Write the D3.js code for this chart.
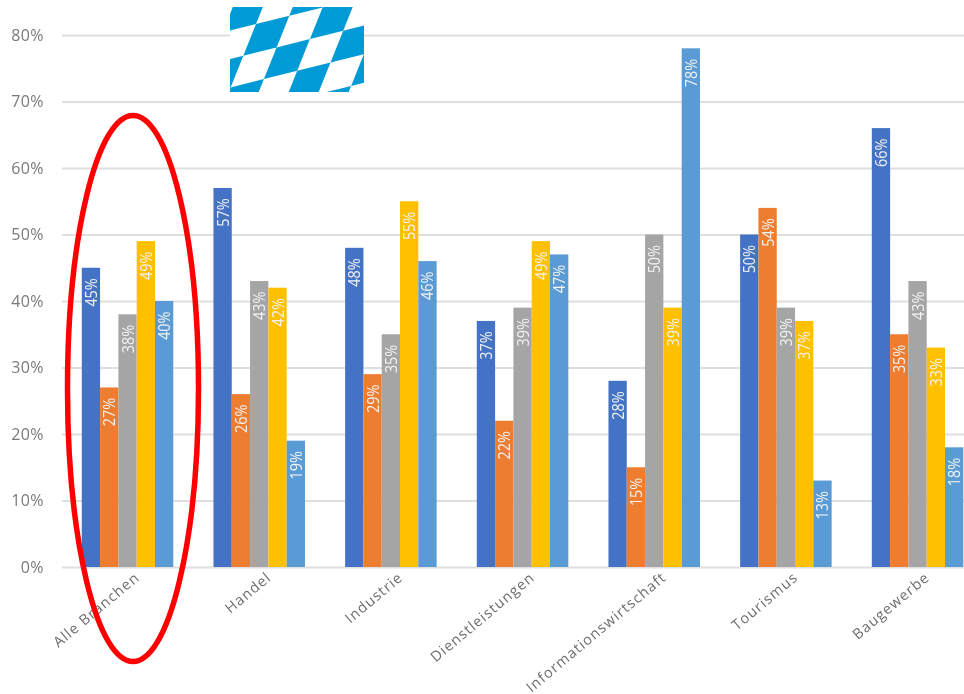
<!DOCTYPE html>
<html><head><meta charset="utf-8">
<script src="https://cdn.jsdelivr.net/npm/d3@7"></script>
<style>html,body{margin:0;padding:0;background:#fff;overflow:hidden}svg{display:block;filter:blur(0.35px)}</style>
</head><body><svg id="c" width="964" height="694"></svg>
<script>
const categories = ["Alle Branchen","Handel","Industrie","Dienstleistungen","Informationswirtschaft","Tourismus","Baugewerbe"];
const seriesA = [45,57,48,37,28,50,66];
const seriesB = [27,26,29,22,15,54,35];
const seriesC = [38,43,35,39,50,39,43];
const seriesD = [49,42,55,49,39,37,33];
const seriesE = [40,19,46,47,78,13,18];
const series = [seriesA,seriesB,seriesC,seriesD,seriesE];
const colors = ["#4472C4","#ED7D31","#A5A5A5","#FFC000","#5B9BD5"];
const yTicks = [0,10,20,30,40,50,60,70,80];

const svg = d3.select("#c");
const y = d3.scaleLinear().domain([0,80]).range([567,35]);
const x0 = d3.scaleBand().domain(categories).range([61.7,983.4]).paddingInner(0.305).paddingOuter(0.1525);
const x1 = d3.scaleBand().domain(d3.range(series.length)).range([0,x0.bandwidth()]);

// gridlines
const yAxis = d3.axisLeft(y).tickValues(yTicks).tickFormat(d=>d+"%").tickSize(-903).tickPadding(18);
const gy = svg.append("g").attr("transform","translate(62,0)").call(yAxis);
gy.select(".domain").remove();
gy.selectAll("line").attr("stroke","#dfdfdf").attr("stroke-width",2);
gy.selectAll("text").attr("fill","#7a7a7a").attr("font-family","'Open Sans',sans-serif").attr("font-size",16).attr("letter-spacing",0.4);

// bars
series.forEach((vals,s)=>{
  const g = svg.append("g");
  g.selectAll("rect").data(vals).join("rect")
    .attr("x",(d,i)=>x0(categories[i])+x1(s))
    .attr("y",d=>y(d))
    .attr("width",x1.bandwidth())
    .attr("height",d=>y(0)-y(d))
    .attr("fill",colors[s]);
  g.selectAll("text").data(vals).join("text")
    .attr("transform",(d,i)=>`translate(${x0(categories[i])+x1(s)+x1.bandwidth()/2+6},${y(d)+10.5}) rotate(-90) scale(0.9,1)`)
    .attr("text-anchor","end")
    .attr("fill","#f2f2f2")
    .attr("font-family","'Open Sans',sans-serif")
    .attr("font-size",16)
    .text(d=>d+"%");
});

// category labels
const xAxis = d3.axisBottom(x0).tickSize(0).tickPadding(0);
const gx = svg.append("g").attr("transform","translate(0,567)").call(xAxis);
gx.select(".domain").remove();
gx.selectAll("text")
  .attr("text-anchor","end")
  .attr("dy",0).attr("y",0).attr("x",0)
  .attr("transform","translate(13,12) rotate(-40)")
  .attr("fill","#6e6e6e")
  .attr("font-family","'Open Sans',sans-serif")
  .attr("font-size",14.5)
  .attr("letter-spacing",1.05);

// Bavarian flag decoration
const defs = svg.append("defs");
defs.append("clipPath").attr("id","fl").append("rect").attr("x",230).attr("y",7).attr("width",134).attr("height",85);
const flag = svg.append("g").attr("clip-path","url(#fl)");
const P = (i,j)=>[256+i*33.3-j*12.7, 24-i*8.3+j*31.7];
const cells = d3.cross(d3.range(-3,6),d3.range(-3,5)).filter(([i,j])=>((i+j)%2+2)%2===0);
flag.selectAll("path").data(cells).join("path")
  .attr("d",([i,j])=>"M"+[P(i,j),P(i+1,j),P(i+1,j+1),P(i,j+1)].join("L")+"Z")
  .attr("fill","#009BD7");
flag.insert("rect",":first-child").attr("x",230).attr("y",7).attr("width",134).attr("height",85).attr("fill","#fff");

// red ellipse
svg.append("ellipse").attr("cx",133).attr("cy",388.5).attr("rx",65.5).attr("ry",273)
  .attr("fill","none").attr("stroke","#FF0000").attr("stroke-width",5.5);
</script></body></html>
